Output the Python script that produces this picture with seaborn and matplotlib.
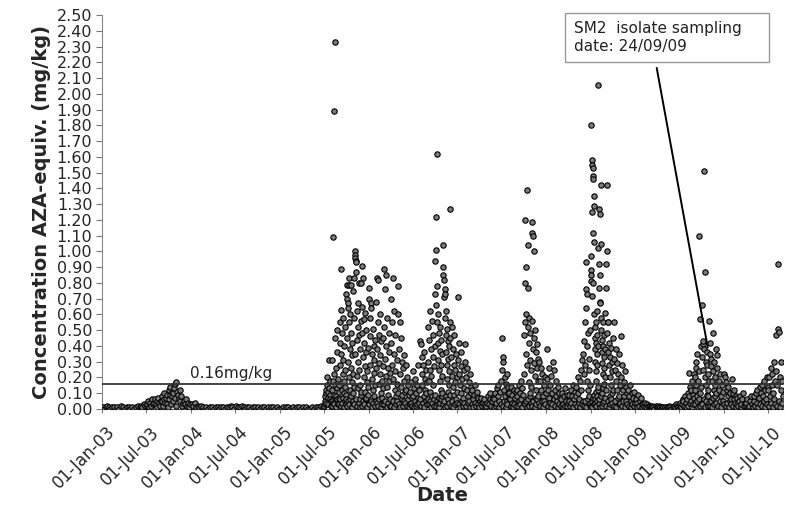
import pandas as pd
import matplotlib
matplotlib.use("Agg")
import matplotlib.pyplot as plt
import matplotlib.dates as mdates
import matplotlib.ticker as mticker
import matplotlib.transforms as mtransforms
import seaborn as sns

# monthly AZA readings (mg/kg), one list per month
vals_2003 = [
    [0.01, 0.00, 0.01, 0.02, 0.01],
    [0.00, 0.01, 0.01, 0.00],
    [0.01, 0.00, 0.02, 0.01],
    [0.00, 0.01, 0.01, 0.00],
    [0.01, 0.00, 0.01, 0.02],
    [0.01, 0.02, 0.01, 0.03, 0.02],
    [0.02, 0.03, 0.05, 0.01, 0.04, 0.02, 0.06, 0.03],
    [0.04, 0.06, 0.03, 0.05, 0.01, 0.07, 0.04, 0.02, 0.05],
    [0.05, 0.08, 0.02, 0.06, 0.10, 0.04, 0.07, 0.03, 0.09, 0.01],
    [0.06, 0.12, 0.09, 0.14, 0.03, 0.11, 0.08, 0.05, 0.10, 0.13, 0.16, 0.07, 0.02],
    [0.17, 0.11, 0.09, 0.06, 0.12, 0.05, 0.08, 0.02, 0.04],
    [0.05, 0.03, 0.06, 0.02, 0.04, 0.01, 0.03],
]
vals_2004 = [
    [0.03, 0.02, 0.04, 0.01, 0.02],
    [0.01, 0.02, 0.01, 0.00],
    [0.01, 0.00, 0.01, 0.01],
    [0.00, 0.01, 0.01, 0.00],
    [0.01, 0.01, 0.00, 0.01],
    [0.01, 0.02, 0.01, 0.00],
    [0.02, 0.01, 0.01, 0.02],
    [0.01, 0.00, 0.01, 0.01],
    [0.00, 0.01, 0.01, 0.00],
    [0.01, 0.00, 0.01, 0.01],
    [0.00, 0.01, 0.00, 0.01],
    [0.01, 0.00, 0.01, 0.00],
]
vals_2005 = [
    [0.00, 0.01, 0.00, 0.01],
    [0.01, 0.00, 0.00, 0.01],
    [0.00, 0.01, 0.01, 0.00],
    [0.01, 0.00, 0.01, 0.00],
    [0.00, 0.01, 0.00, 0.01],
    [0.01, 0.00, 0.02, 0.01],
    [0.02, 0.05, 0.08, 0.03, 0.10, 0.12, 0.04, 0.15, 0.20, 0.07, 0.11, 0.03,
     0.13, 0.31, 0.09, 0.06, 0.18, 0.02, 0.05],
    [0.05, 0.12, 0.31, 0.02, 0.18, 1.09, 0.04, 0.22, 1.89, 0.09, 0.03, 2.33,
     0.45, 0.15, 0.01, 0.26, 0.08, 0.50, 0.06, 0.13, 0.36, 0.03, 0.19, 0.04,
     0.11, 0.07],
    [0.15, 0.03, 0.42, 0.55, 0.06, 0.28, 0.89, 0.02, 0.63, 0.35, 0.12, 0.04,
     0.48, 0.22, 0.58, 0.07, 0.31, 0.01, 0.18, 0.40, 0.10, 0.05, 0.25, 0.52,
     0.14, 0.03, 0.09, 0.06],
    [0.73, 0.79, 0.02, 0.70, 0.45, 0.67, 0.05, 0.30, 0.64, 0.79, 0.20, 0.03,
     0.55, 0.83, 0.38, 0.12, 0.06, 0.60, 0.26, 0.48, 0.08, 0.79, 0.01, 0.34,
     0.17, 0.42, 0.75, 0.10, 0.04, 0.22, 0.05, 0.14],
    [0.83, 0.58, 0.03, 0.35, 1.00, 0.98, 0.96, 0.94, 0.93, 0.06, 0.87, 0.44,
     0.62, 0.21, 0.02, 0.52, 0.67, 0.30, 0.13, 0.04, 0.47, 0.80, 0.25, 0.06,
     0.38, 0.15, 0.01, 0.56, 0.09, 0.11],
    [0.80, 0.65, 0.02, 0.91, 0.48, 0.83, 0.05, 0.33, 0.57, 0.20, 0.03, 0.42,
     0.11, 0.61, 0.27, 0.06, 0.36, 0.07, 0.50, 0.17, 0.01, 0.24, 0.09, 0.39,
     0.14, 0.04],
]
vals_2006 = [
    [0.77, 0.70, 0.03, 0.46, 0.28, 0.58, 0.05, 0.67, 0.64, 0.35, 0.01, 0.19,
     0.51, 0.12, 0.04, 0.40, 0.23, 0.08, 0.31, 0.15, 0.02, 0.44, 0.05, 0.26],
    [0.68, 0.83, 0.04, 0.38, 0.82, 0.55, 0.02, 0.29, 0.47, 0.16, 0.06, 0.60,
     0.22, 0.34, 0.01, 0.10, 0.43, 0.18, 0.07, 0.03, 0.27, 0.13],
    [0.45, 0.89, 0.03, 0.52, 0.32, 0.76, 0.05, 0.21, 0.85, 0.40, 0.01, 0.14,
     0.58, 0.26, 0.09, 0.04, 0.36, 0.18, 0.48, 0.06, 0.02, 0.23],
    [0.70, 0.42, 0.02, 0.28, 0.55, 0.83, 0.05, 0.19, 0.35, 0.62, 0.01, 0.12,
     0.47, 0.24, 0.08, 0.03, 0.31, 0.16, 0.05, 0.10],
    [0.78, 0.60, 0.03, 0.38, 0.55, 0.22, 0.01, 0.45, 0.14, 0.06, 0.30, 0.09,
     0.26, 0.02, 0.18, 0.05, 0.34, 0.11, 0.04],
    [0.28, 0.12, 0.02, 0.20, 0.06, 0.15, 0.01, 0.09, 0.03, 0.11, 0.17, 0.04,
     0.07, 0.02],
    [0.24, 0.08, 0.01, 0.13, 0.05, 0.19, 0.02, 0.10, 0.03, 0.15, 0.07, 0.28,
     0.04, 0.12, 0.06],
    [0.43, 0.41, 0.02, 0.22, 0.33, 0.15, 0.04, 0.28, 0.08, 0.36, 0.01, 0.12,
     0.19, 0.05, 0.25, 0.10, 0.03, 0.17, 0.06],
    [0.30, 0.52, 0.03, 0.18, 0.44, 0.62, 0.05, 0.25, 0.11, 0.38, 0.01, 0.21,
     0.56, 0.08, 0.04, 0.33, 0.15, 0.47, 0.02, 0.27, 0.06, 0.40, 0.09],
    [0.94, 0.73, 0.02, 0.66, 1.22, 1.01, 0.05, 0.78, 1.62, 0.55, 0.03, 0.42,
     0.31, 0.60, 0.07, 0.25, 0.48, 0.01, 0.18, 0.37, 0.52, 0.04, 0.12, 0.28,
     0.44, 0.06, 0.21, 0.08, 0.35, 0.10],
    [1.04, 0.90, 0.03, 0.85, 0.82, 0.71, 0.05, 0.76, 0.73, 0.58, 0.01, 0.47,
     0.36, 0.62, 0.08, 0.28, 0.51, 0.02, 0.19, 0.43, 0.32, 0.06, 0.11, 0.40,
     0.24, 0.04, 0.15, 0.55, 0.09],
    [1.27, 0.45, 0.02, 0.33, 0.52, 0.21, 0.05, 0.38, 0.14, 0.01, 0.28, 0.47,
     0.09, 0.03, 0.25, 0.17, 0.06, 0.35, 0.04, 0.20, 0.11],
]
vals_2007 = [
    [0.31, 0.71, 0.03, 0.22, 0.42, 0.15, 0.01, 0.27, 0.36, 0.10, 0.05, 0.19,
     0.07, 0.02, 0.25, 0.13, 0.04, 0.30],
    [0.41, 0.20, 0.02, 0.12, 0.26, 0.08, 0.04, 0.17, 0.05, 0.01, 0.22, 0.14,
     0.10, 0.03],
    [0.12, 0.06, 0.01, 0.09, 0.15, 0.04, 0.02, 0.08, 0.11, 0.03, 0.07, 0.01],
    [0.05, 0.03, 0.07, 0.02, 0.04, 0.06, 0.01, 0.03, 0.02],
    [0.04, 0.08, 0.03, 0.06, 0.10, 0.02, 0.05, 0.07, 0.01],
    [0.06, 0.10, 0.02, 0.04, 0.13, 0.08, 0.15, 0.01, 0.05, 0.11, 0.03, 0.18],
    [0.45, 0.25, 0.02, 0.33, 0.30, 0.12, 0.05, 0.20, 0.08, 0.01, 0.16, 0.05,
     0.22, 0.03, 0.10, 0.14, 0.07],
    [0.10, 0.06, 0.02, 0.14, 0.04, 0.09, 0.01, 0.12, 0.03, 0.07, 0.11, 0.02],
    [0.08, 0.12, 0.02, 0.05, 0.15, 0.10, 0.03, 0.18, 0.06, 0.01, 0.13, 0.09,
     0.04],
    [0.22, 0.47, 0.03, 0.80, 0.55, 1.20, 0.05, 0.35, 0.90, 0.60, 0.01, 0.28,
     1.39, 0.77, 0.06, 0.52, 1.04, 0.42, 0.02, 0.17, 0.58, 0.31, 0.08, 0.10,
     0.48, 0.04, 0.25, 0.14],
    [1.19, 1.12, 0.02, 0.56, 1.10, 0.38, 0.05, 1.00, 0.45, 0.29, 0.01, 0.50,
     0.21, 0.07, 0.36, 0.12, 0.03, 0.41, 0.26, 0.06, 0.18, 0.08, 0.32, 0.04],
    [0.30, 0.18, 0.02, 0.26, 0.12, 0.05, 0.22, 0.08, 0.01, 0.15, 0.05, 0.20,
     0.03, 0.10],
]
vals_2008 = [
    [0.38, 0.19, 0.02, 0.12, 0.26, 0.07, 0.04, 0.15, 0.01, 0.21, 0.10, 0.03,
     0.30, 0.06],
    [0.25, 0.12, 0.02, 0.08, 0.18, 0.05, 0.01, 0.14, 0.03, 0.10, 0.07, 0.02],
    [0.06, 0.10, 0.01, 0.03, 0.08, 0.13, 0.02, 0.05, 0.09, 0.02, 0.04],
    [0.05, 0.09, 0.02, 0.12, 0.04, 0.08, 0.01, 0.15, 0.06, 0.03, 0.11],
    [0.08, 0.14, 0.02, 0.10, 0.20, 0.04, 0.06, 0.18, 0.01, 0.25, 0.12, 0.03,
     0.31, 0.05],
    [0.35, 0.43, 0.02, 0.22, 0.55, 0.28, 0.05, 0.64, 0.93, 0.76, 0.01, 0.73,
     0.40, 0.18, 0.06, 0.48, 0.12, 0.03, 0.32, 0.25, 0.08, 0.50, 0.15, 0.04],
    [0.88, 0.85, 0.02, 1.80, 0.81, 0.97, 0.05, 1.58, 0.72, 1.25, 0.01, 1.55,
     1.48, 1.53, 0.07, 1.46, 0.80, 1.12, 0.03, 1.29, 1.06, 1.35, 0.09, 0.60,
     0.52, 0.04, 0.45, 0.38, 0.06, 0.30, 0.55, 0.02, 0.24, 0.42, 0.11, 0.18,
     0.35, 0.08, 0.62, 0.47, 0.05, 0.28, 0.12, 0.40, 0.14],
    [2.06, 1.02, 0.03, 1.27, 0.92, 0.77, 0.06, 0.68, 1.24, 0.85, 0.01, 0.67,
     1.42, 0.58, 0.08, 1.05, 0.50, 0.02, 0.44, 0.36, 0.10, 0.29, 0.55, 0.04,
     0.22, 0.40, 0.13, 0.33, 0.16, 0.05, 0.47, 0.26, 0.07, 0.61, 0.38, 0.20,
     0.12],
    [0.92, 0.77, 0.02, 0.48, 1.42, 1.00, 0.05, 0.55, 0.36, 0.55, 0.01, 0.42,
     0.28, 0.08, 0.20, 0.33, 0.03, 0.15, 0.39, 0.06, 0.24, 0.10, 0.04, 0.30,
     0.12],
    [0.45, 0.55, 0.02, 0.32, 0.25, 0.05, 0.38, 0.18, 0.01, 0.29, 0.12, 0.07,
     0.22, 0.08, 0.03, 0.35, 0.15, 0.04],
    [0.46, 0.20, 0.02, 0.28, 0.12, 0.05, 0.17, 0.08, 0.01, 0.24, 0.05, 0.14,
     0.03, 0.10],
    [0.12, 0.08, 0.02, 0.15, 0.05, 0.01, 0.10, 0.03, 0.07, 0.02, 0.11, 0.04],
]
vals_2009 = [
    [0.06, 0.04, 0.01, 0.09, 0.02, 0.05, 0.07, 0.01, 0.03],
    [0.03, 0.02, 0.04, 0.01, 0.03, 0.02, 0.01],
    [0.02, 0.01, 0.02, 0.01, 0.00, 0.02, 0.01],
    [0.01, 0.02, 0.01, 0.00, 0.01, 0.01, 0.00],
    [0.01, 0.00, 0.01, 0.01, 0.02, 0.01, 0.00],
    [0.01, 0.02, 0.01, 0.03, 0.02, 0.01, 0.00],
    [0.02, 0.04, 0.01, 0.03, 0.06, 0.05, 0.02, 0.08, 0.04, 0.01],
    [0.06, 0.10, 0.02, 0.23, 0.08, 0.14, 0.04, 0.05, 0.12, 0.01, 0.18, 0.09,
     0.03, 0.22, 0.07],
    [0.12, 0.20, 0.03, 0.30, 0.15, 0.26, 0.05, 0.08, 0.35, 0.01, 0.18, 1.10,
     0.24, 0.06, 0.10, 0.57, 0.02, 0.40, 0.14, 0.04],
    [0.33, 0.66, 0.03, 0.41, 0.25, 0.43, 0.06, 1.51, 0.38, 0.20, 0.01, 0.87,
     0.30, 0.15, 0.05, 0.36, 0.28, 0.09, 0.12, 0.02, 0.22, 0.08, 0.04, 0.18],
    [0.56, 0.35, 0.02, 0.42, 0.27, 0.05, 0.32, 0.18, 0.01, 0.48, 0.24, 0.07,
     0.12, 0.30, 0.03, 0.20, 0.08, 0.15, 0.04, 0.38, 0.10],
    [0.26, 0.34, 0.02, 0.18, 0.12, 0.05, 0.22, 0.08, 0.01, 0.15, 0.05, 0.11,
     0.03],
]
vals_2010 = [
    [0.22, 0.20, 0.02, 0.17, 0.12, 0.04, 0.08, 0.14, 0.01, 0.05, 0.10, 0.06,
     0.03],
    [0.19, 0.10, 0.02, 0.06, 0.12, 0.04, 0.01, 0.08, 0.03, 0.07, 0.02],
    [0.05, 0.08, 0.01, 0.03, 0.06, 0.10, 0.02, 0.04, 0.02],
    [0.04, 0.06, 0.01, 0.02, 0.05, 0.08, 0.03, 0.01],
    [0.05, 0.08, 0.02, 0.10, 0.04, 0.12, 0.01, 0.07, 0.14, 0.03],
    [0.10, 0.15, 0.02, 0.08, 0.18, 0.05, 0.12, 0.01, 0.06, 0.20, 0.03, 0.14],
    [0.12, 0.20, 0.02, 0.08, 0.26, 0.04, 0.15, 0.22, 0.01, 0.10, 0.30, 0.06,
     0.18, 0.03],
    [0.24, 0.47, 0.02, 0.15, 0.51, 0.92, 0.05, 0.49, 0.20, 0.01, 0.12, 0.30,
     0.04, 0.18, 0.08],
]
years = [2003, 2004, 2005, 2006, 2007, 2008, 2009, 2010]
monthly = [vals_2003, vals_2004, vals_2005, vals_2006, vals_2007, vals_2008,
           vals_2009, vals_2010]

limit = 0.16
sampling_date = "2009-10-26"
sampling_value = 0.39

# spread each month's readings evenly across that month
rows = []
for year, months in zip(years, monthly):
    for m, vals in enumerate(months, start=1):
        start = pd.Timestamp(year, m, 1)
        ndays = start.days_in_month
        for i, v in enumerate(vals):
            rows.append((start + pd.Timedelta(days=(i + 0.5) * ndays / len(vals)), v))
df = pd.DataFrame(rows, columns=["date", "conc"])

sns.set_style("white")
plt.rcParams["font.family"] = ["DejaVu Sans"]

fig = plt.figure(figsize=(7.85, 5.08), dpi=100)
ax = fig.add_axes([0.130, 0.195, 0.868, 0.775])

sns.scatterplot(data=df, x="date", y="conc", ax=ax, s=15, color="#7a7a7a",
                edgecolor="black", linewidth=0.8, legend=False, zorder=3)

ax.axhline(limit, color="#333333", lw=1.3, zorder=4)
ax.text(pd.Timestamp("2004-06-15"), 0.225, "0.16mg/kg", fontsize=11,
        ha="center", va="center", color="#222222")

ax.annotate("SM2  isolate sampling    \ndate: 24/09/09",
            xy=(pd.Timestamp(sampling_date), sampling_value),
            xytext=(0.692, 0.985), textcoords="axes fraction",
            fontsize=11, ha="left", va="top", color="#222222",
            bbox=dict(boxstyle="square,pad=0.55", fc="white", ec="#999999", lw=1.0),
            arrowprops=dict(arrowstyle="-", color="black", lw=1.4,
                            relpos=(0.43, 0.0), shrinkA=4, shrinkB=0),
            zorder=5)

ax.set_xlim(pd.Timestamp("2003-01-01"), pd.Timestamp("2010-09-02"))
ax.set_ylim(0, 2.5)
ax.yaxis.set_major_locator(mticker.MultipleLocator(0.1))
ax.yaxis.set_major_formatter(mticker.FormatStrFormatter("%.2f"))
ax.xaxis.set_major_locator(mdates.MonthLocator(bymonth=[1, 7]))
ax.xaxis.set_major_formatter(mdates.DateFormatter("%d-%b-%y"))

ax.tick_params(axis="y", labelsize=11.5, length=4, width=0.8, color="#777777",
               direction="out", pad=3, left=True)
ax.tick_params(axis="x", labelsize=12, length=3, width=0.8, color="#777777",
               direction="out", pad=2, bottom=True)
shift = mtransforms.ScaledTranslation(3 / 72, -5 / 72, fig.dpi_scale_trans)
for lab in ax.get_xticklabels():
    lab.set_rotation(45)
    lab.set_ha("right")
    lab.set_rotation_mode("anchor")
    lab.set_transform(lab.get_transform() + shift)

for s in ["top", "right"]:
    ax.spines[s].set_visible(False)
ax.spines["left"].set_color("#888888")
ax.spines["bottom"].set_color("#555555")

ax.set_xlabel("Date", fontsize=14, fontweight="bold")
ax.xaxis.set_label_coords(0.5, -0.195)
ax.set_ylabel("Concentration AZA-equiv. (mg/kg)", fontsize=14,
              fontweight="bold", labelpad=4)

fig.savefig("out.png", dpi=100)
